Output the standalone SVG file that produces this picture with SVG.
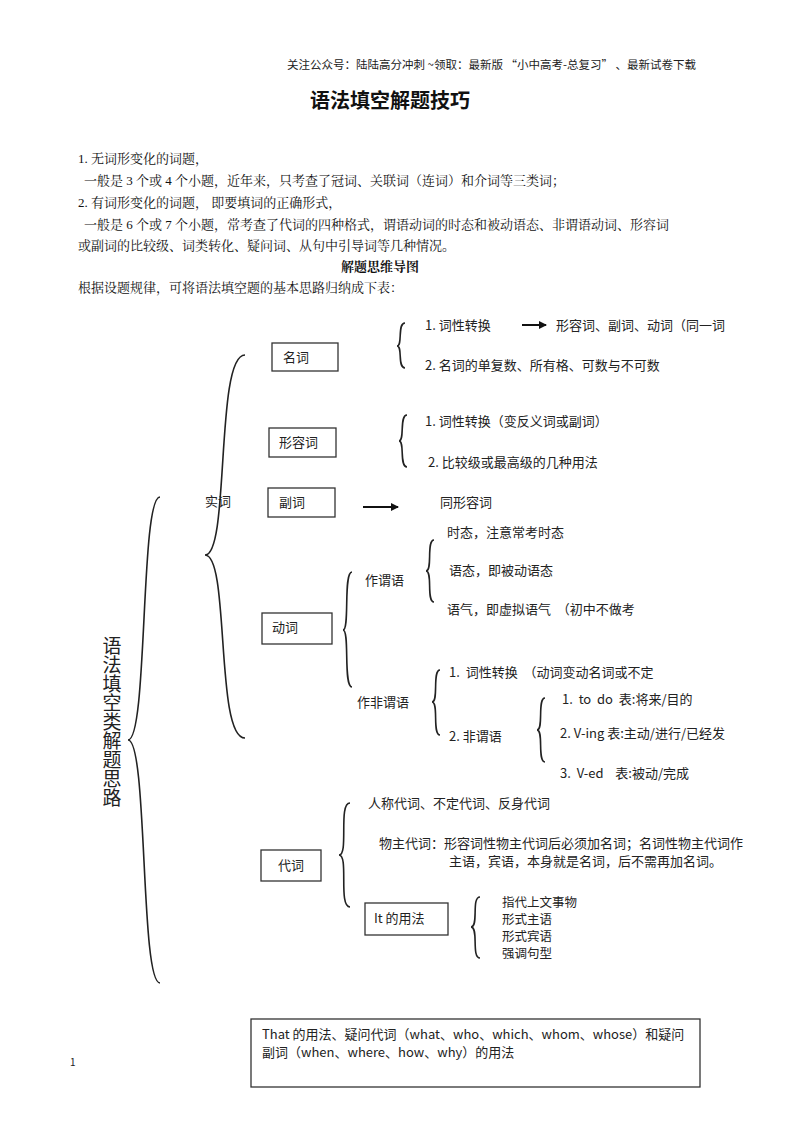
<svg xmlns="http://www.w3.org/2000/svg" width="800" height="1132" viewBox="0 0 800 1132">
<style>
.s{font-family:"Noto Sans CJK SC","Liberation Sans",sans-serif;font-size:13px;fill:#222}
.r{font-family:"Liberation Serif","Noto Serif CJK SC","Noto Sans CJK SC",serif;font-size:13px;fill:#111}
.box{fill:#fff;stroke:#333;stroke-width:1.3}
.br{fill:none;stroke:#222;stroke-width:1.6}
</style>
<defs><marker id="a" markerWidth="8" markerHeight="8" refX="7" refY="4" orient="auto" markerUnits="userSpaceOnUse"><path d="M0,0L8,4L0,8z" fill="#111"/></marker></defs>
<rect width="800" height="1132" fill="#fff"/>
<text x="287" y="69" class="s" style="font-size:11.5px">关注公众号：陆陆高分冲刺  ~领取：最新版 “小中高考-总复习” 、最新试卷下载</text>
<text x="390" y="108" text-anchor="middle" class="s" style="font-size:20px;font-weight:bold;fill:#111">语法填空解题技巧</text>
<text x="78" y="163" class="r">1. 无词形变化的词题，</text>
<text x="84" y="185" class="r">一般是 3 个或 4 个小题，近年来，只考查了冠词、关联词（连词）和介词等三类词；</text>
<text x="78" y="207" class="r">2. 有词形变化的词题， 即要填词的正确形式，</text>
<text x="84" y="229" class="r">一般是 6 个或 7 个小题，常考查了代词的四种格式，谓语动词的时态和被动语态、非谓语动词、形容词</text>
<text x="78" y="250" class="r">或副词的比较级、词类转化、疑问词、从句中引导词等几种情况。</text>
<text x="380" y="271" text-anchor="middle" class="r" style="font-weight:bold">解题思维导图</text>
<text x="78" y="292" class="r">根据设题规律，可将语法填空题的基本思路归纳成下表：</text>
<g id="connectors">
<path class="br" d="M160,497 C140,497 148,740 128,740 C148,740 140,983 160,983"/>
<path class="br" d="M245,355 C215,355 230,555 205,555 C230,555 215,738 245,738"/>
<path class="br" d="M405,323 C397,323 403,346 397,346 C403,346 397,368 405,368"/>
<path class="br" d="M407,415 C399,415 405,441 399,441 C405,441 399,467 407,467"/>
<path class="br" d="M352,572 C343,572 350,630 343,630 C350,630 343,687 352,687"/>
<path class="br" d="M434,540 C426,540 433,571 426,571 C433,571 426,602 434,602"/>
<path class="br" d="M440,670 C432,670 439,702 432,702 C439,702 432,735 440,735"/>
<path class="br" d="M545,698 C537,698 544,730 537,730 C544,730 537,762 545,762"/>
<path class="br" d="M350,803 C338,803 349,855 339,855 C349,855 338,907 350,907"/>
<path class="br" d="M480,897 C471,897 479,927 471,927 C479,927 471,958 480,958"/>
<line x1="522" y1="325" x2="546" y2="325" stroke="#111" stroke-width="2" marker-end="url(#a)"/>
<line x1="363" y1="507" x2="398" y2="507" stroke="#111" stroke-width="2" marker-end="url(#a)"/>
</g>
<g id="root"><text class="s" style="font-size:19px" x="112" y="636" writing-mode="tb">语法填空类解题思路</text></g>
<g id="shici"><text x="205" y="506" class="s">实词</text></g>
<g id="mingci"><rect class="box" x="272" y="343" width="66" height="28"/><text x="283" y="362" class="s">名词</text>
<text x="425" y="330" class="s">1.  词性转换</text><text x="556" y="330" class="s">形容词、副词、动词（同一词</text><text x="425" y="370" class="s">2.  名词的单复数、所有格、可数与不可数</text></g>
<g id="xingrongci"><rect class="box" x="269" y="428" width="67" height="29"/><text x="279" y="447" class="s">形容词</text>
<text x="425" y="426" class="s">1.  词性转换（变反义词或副词）</text><text x="428" y="467" class="s">2.  比较级或最高级的几种用法</text></g>
<g id="fuci"><rect class="box" x="268" y="488" width="67" height="29"/><text x="279" y="507" class="s">副词</text><text x="440" y="507" class="s">同形容词</text></g>
<g id="dongci"><rect class="box" x="262" y="613" width="70" height="31"/><text x="272" y="632" class="s">动词</text>
<text x="365" y="585" class="s">作谓语</text><text x="357" y="707" class="s">作非谓语</text>
<text x="447" y="537" class="s">时态，注意常考时态</text><text x="449" y="575" class="s">语态，即被动语态</text><text x="447" y="614" class="s" xml:space="preserve">语气，即虚拟语气  （初中不做考</text>
<text x="449" y="677" class="s" xml:space="preserve">1.  词性转换  （动词变动名词或不定</text><text x="449" y="741" class="s">2.  非谓语</text>
<text x="562" y="704" class="s" xml:space="preserve">1.  to  do  表:将来/目的</text><text x="560" y="738" class="s">2.  V-ing  表:主动/进行/已经发</text><text x="560" y="778" class="s" xml:space="preserve">3.  V-ed    表:被动/完成</text></g>
<g id="daici"><rect class="box" x="261" y="850" width="60" height="31"/><text x="278" y="870" class="s">代词</text>
<text x="368" y="808" class="s">人称代词、不定代词、反身代词</text>
<text x="379" y="848" class="s">物主代词：形容词性物主代词后必须加名词；名词性物主代词作</text>
<text x="449" y="866" class="s">主语，宾语，本身就是名词，后不需再加名词。</text></g>
<g id="it"><rect class="box" x="365" y="903" width="83" height="32"/><text x="374" y="923" class="s">It 的用法</text>
<g class="s" style="font-size:12.5px"><text x="502" y="907">指代上文事物</text><text x="502" y="924">形式主语</text><text x="502" y="941">形式宾语</text><text x="502" y="958">强调句型</text></g></g>
<g id="that"><rect class="box" x="251" y="1019" width="449" height="68"/>
<text x="262" y="1039" class="s">That 的用法、疑问代词（what、who、which、whom、whose）和疑问</text>
<text x="262" y="1057" class="s">副词（when、where、how、why）的用法</text></g>
<text x="70" y="1066" class="s" style="font-size:10px">1</text>
</svg>
